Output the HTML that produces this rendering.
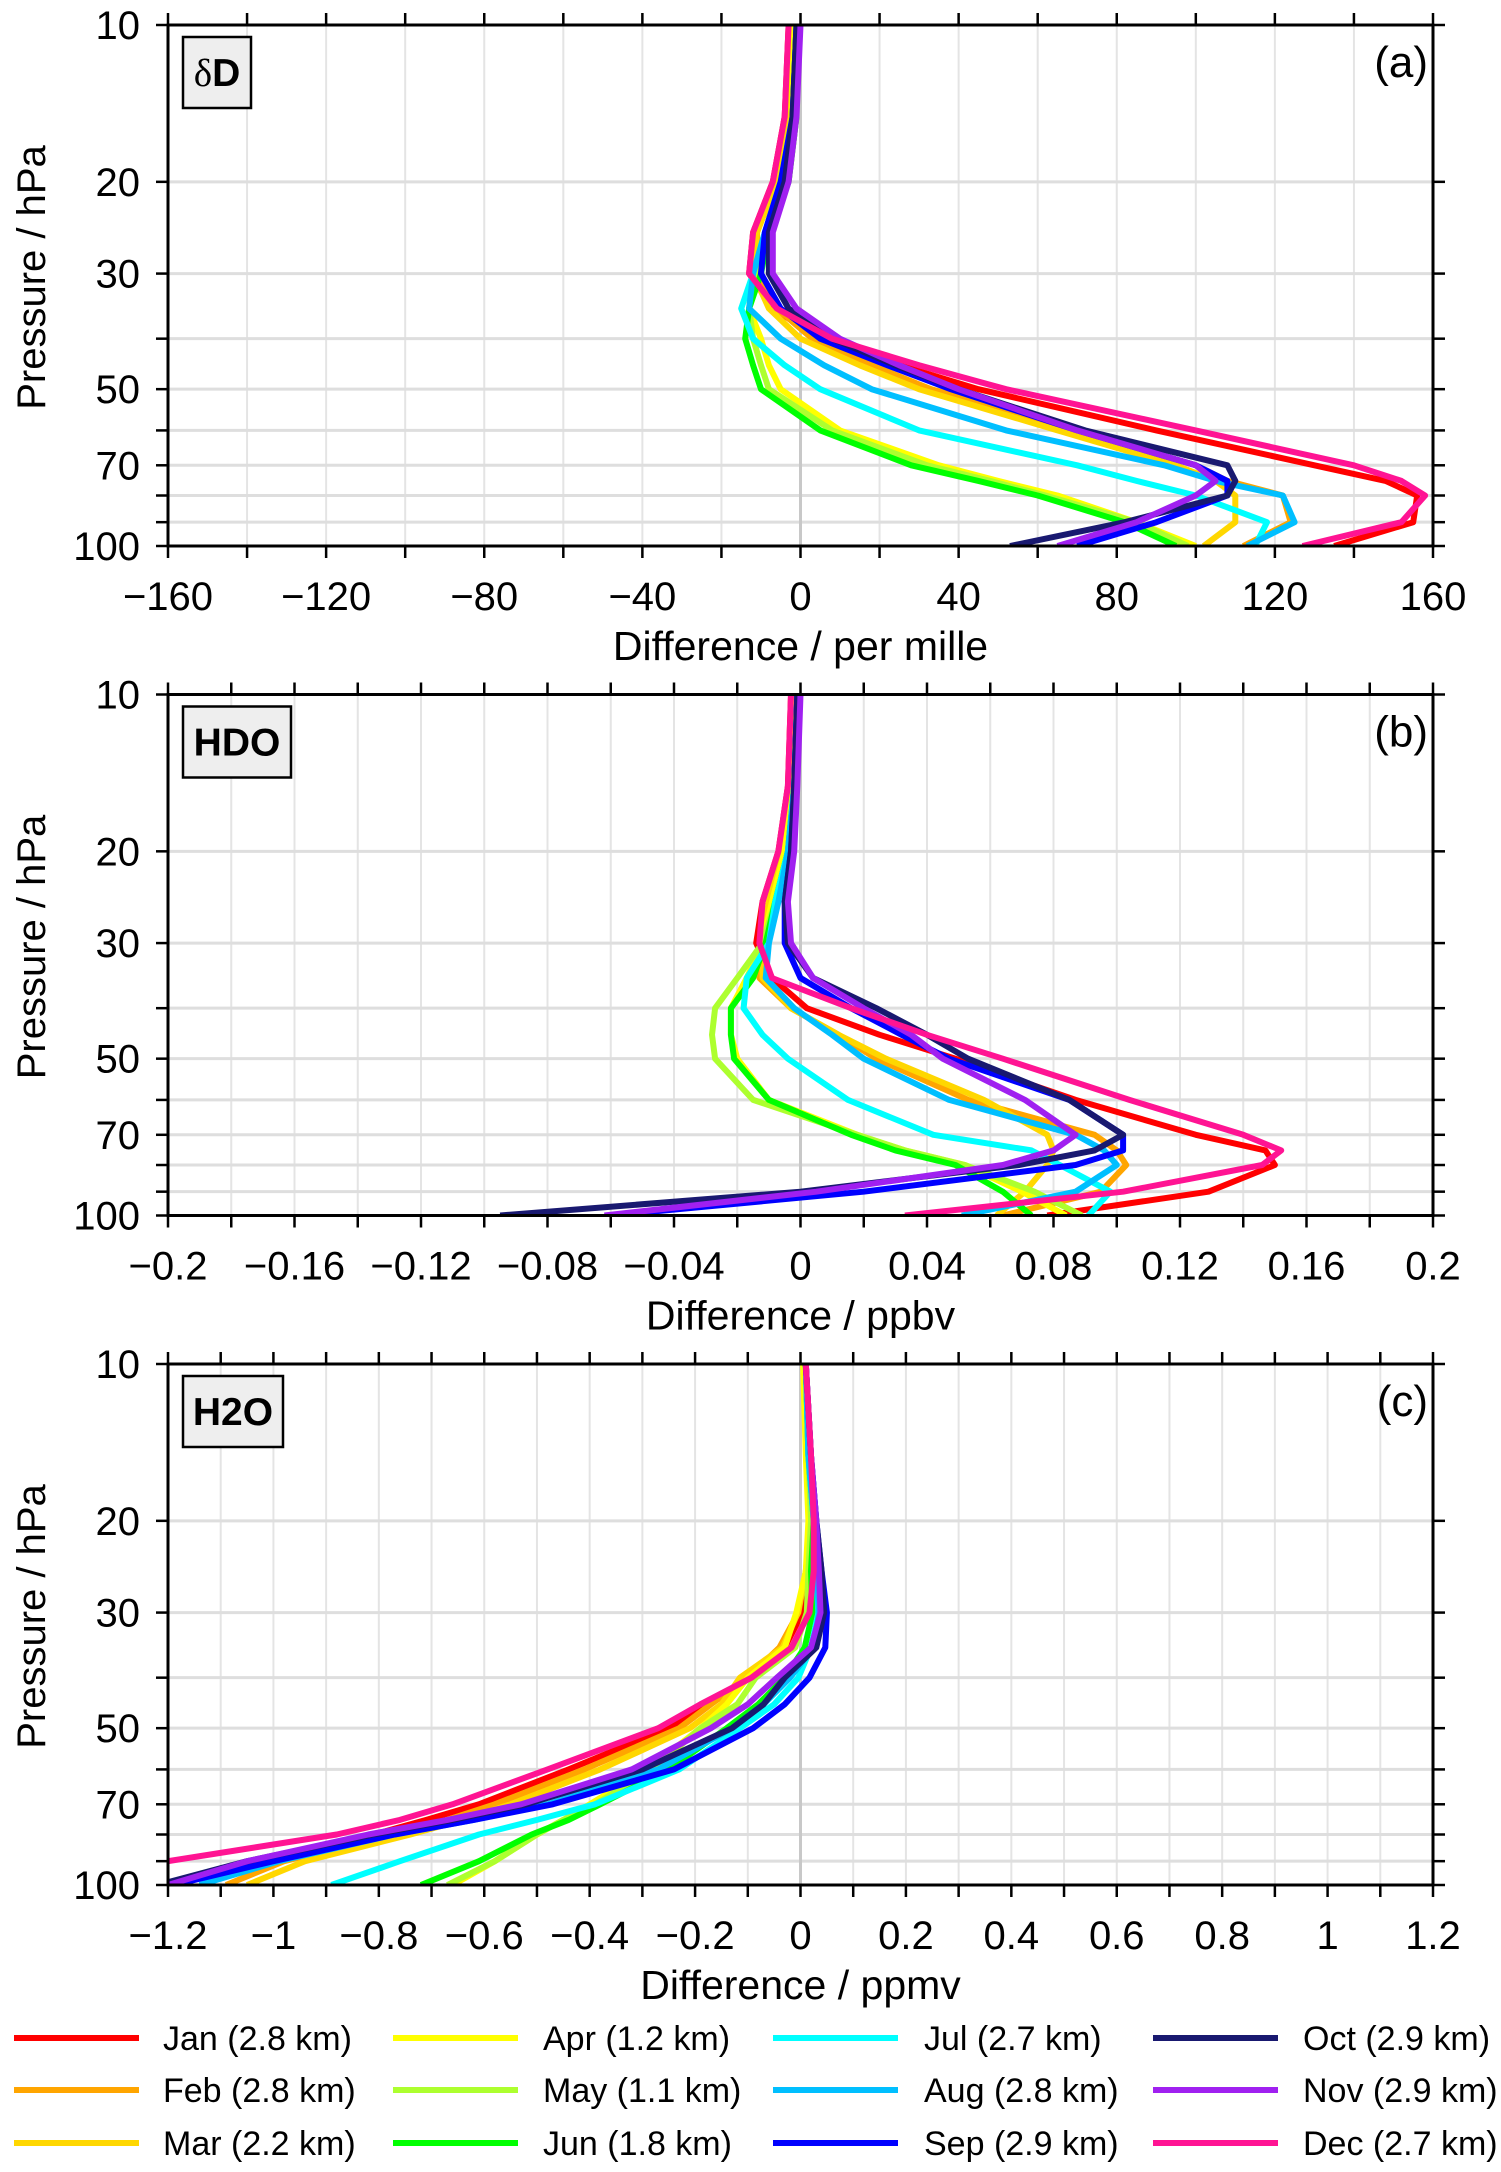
<!DOCTYPE html>
<html><head><meta charset="utf-8"><style>
html,body{margin:0;padding:0;background:#fff}
svg{display:block;font-family:"Liberation Sans",Arial,sans-serif}
</style></head><body>
<svg id="fig" xmlns="http://www.w3.org/2000/svg" width="1501" height="2172" viewBox="0 0 1501 2172"></svg>
<script>
const levels=[10,15,20,25,30,35,40,45,50,60,70,75,80,90,100];
const months=["Jan (2.8 km)","Feb (2.8 km)","Mar (2.2 km)","Apr (1.2 km)","May (1.1 km)","Jun (1.8 km)","Jul (2.7 km)","Aug (2.8 km)","Sep (2.9 km)","Oct (2.9 km)","Nov (2.9 km)","Dec (2.7 km)"];
const colors=["#ff0000","#ffa500","#ffd700","#ffff00","#adff2f","#00ff00","#00ffff","#00bfff","#0000ff","#191970","#a020f0","#ff1493"];
const dD=[
[-3,-4,-7,-12,-13,-7,5,25,45,90,130,148,156,155,135],
[-2,-3,-6,-11,-11,-6,3,18,33,70,100,108,122,124,112],
[-2,-3,-6,-11,-12,-8,0,15,30,65,95,105,110,110,102],
[-2,-2,-4,-9,-12,-13,-10,-8,-5,10,35,50,65,85,100],
[-1,-1,-3,-8,-11,-13,-12,-10,-8,8,32,48,62,85,98],
[-1,-1,-3,-8,-10,-13,-14,-12,-10,5,28,45,60,82,95],
[-1,-2,-5,-9,-12,-15,-12,-4,5,30,70,85,100,118,115],
[-1,-2,-5,-9,-12,-13,-5,6,18,52,92,105,122,125,113],
[-1,-2,-5,-9,-10,-5,5,22,38,70,100,108,108,90,70],
[-1,-2,-4,-8,-8,-3,8,24,40,72,108,110,108,82,53],
[0,-1,-3,-7,-7,-1,10,25,40,70,100,105,100,85,65],
[-3,-4,-7,-12,-13,-6,8,30,52,100,140,152,158,152,127]];
const hdo=[
[-0.003,-0.004,-0.007,-0.012,-0.014,-0.009,0.002,0.025,0.049,0.087,0.125,0.147,0.15,0.129,0.078],
[-0.002,-0.003,-0.006,-0.01,-0.012,-0.013,-0.003,0.012,0.024,0.053,0.093,0.1,0.103,0.095,0.064],
[-0.002,-0.003,-0.006,-0.01,-0.012,-0.012,-0.003,0.012,0.027,0.058,0.078,0.08,0.078,0.071,0.062],
[-0.002,-0.003,-0.005,-0.009,-0.012,-0.017,-0.022,-0.022,-0.02,-0.01,0.018,0.033,0.052,0.07,0.084],
[-0.001,-0.002,-0.004,-0.008,-0.012,-0.02,-0.027,-0.028,-0.027,-0.015,0.018,0.033,0.052,0.074,0.089],
[-0.001,-0.002,-0.004,-0.008,-0.011,-0.015,-0.022,-0.022,-0.021,-0.01,0.016,0.03,0.049,0.064,0.073],
[-0.001,-0.002,-0.004,-0.008,-0.01,-0.017,-0.018,-0.012,-0.004,0.015,0.042,0.073,0.082,0.098,0.091],
[-0.001,-0.002,-0.004,-0.007,-0.01,-0.011,-0.002,0.01,0.02,0.047,0.087,0.096,0.1,0.087,0.051],
[-0.001,-0.002,-0.003,-0.005,-0.005,0.0,0.016,0.032,0.047,0.085,0.102,0.102,0.087,0.02,-0.06],
[-0.001,-0.002,-0.003,-0.005,-0.004,0.004,0.024,0.04,0.053,0.085,0.102,0.093,0.069,0.0,-0.095],
[0,-0.001,-0.002,-0.004,-0.003,0.004,0.02,0.035,0.045,0.071,0.087,0.08,0.064,0.005,-0.062],
[-0.003,-0.004,-0.007,-0.012,-0.013,-0.009,0.016,0.04,0.064,0.104,0.14,0.152,0.146,0.102,0.033]];
const h2o=[
[0.01,0.02,0.02,0.02,0.004,-0.03,-0.097,-0.18,-0.25,-0.44,-0.61,-0.71,-0.81,-1.03,-1.22],
[0.01,0.015,0.02,0.01,-0.004,-0.04,-0.1,-0.17,-0.23,-0.41,-0.58,-0.67,-0.77,-0.98,-1.09],
[0.01,0.015,0.02,0.01,-0.005,-0.034,-0.115,-0.15,-0.21,-0.38,-0.55,-0.64,-0.74,-0.94,-1.05],
[0.005,0.01,0.015,0.01,-0.008,-0.03,-0.1,-0.14,-0.19,-0.29,-0.4,-0.45,-0.5,-0.58,-0.66],
[0.01,0.015,0.02,0.015,0.012,-0.01,-0.085,-0.12,-0.19,-0.28,-0.39,-0.45,-0.5,-0.58,-0.67],
[0.01,0.015,0.025,0.02,0.023,0.008,-0.03,-0.08,-0.14,-0.25,-0.38,-0.44,-0.51,-0.61,-0.72],
[0.01,0.015,0.025,0.03,0.034,0.02,-0.004,-0.05,-0.115,-0.23,-0.39,-0.5,-0.61,-0.76,-0.89],
[0.01,0.015,0.025,0.03,0.035,0.025,-0.02,-0.07,-0.13,-0.27,-0.48,-0.62,-0.77,-0.99,-1.14],
[0.01,0.02,0.03,0.04,0.05,0.047,0.017,-0.03,-0.09,-0.24,-0.47,-0.62,-0.77,-1.0,-1.19],
[0.01,0.02,0.03,0.04,0.045,0.03,-0.03,-0.07,-0.13,-0.3,-0.52,-0.66,-0.81,-1.05,-1.22],
[0.01,0.02,0.03,0.035,0.038,0.02,-0.045,-0.1,-0.17,-0.32,-0.53,-0.67,-0.82,-1.05,-1.2],
[0.01,0.02,0.025,0.025,0.017,-0.017,-0.093,-0.19,-0.27,-0.48,-0.66,-0.76,-0.88,-1.2,-1.45]];
const ticksA=[-160,-120,-80,-40,0,40,80,120,160];
const ticksB=[-0.2,-0.16,-0.12,-0.08,-0.04,0,0.04,0.08,0.12,0.16,0.2];
const ticksC=[-1.2,-1,-0.8,-0.6,-0.4,-0.2,0,0.2,0.4,0.6,0.8,1,1.2];
const pTicks=[10,20,30,40,50,60,70,80,90,100];
const pLabels=[10,20,30,50,70,100];

const NS="http://www.w3.org/2000/svg";
const svg=document.getElementById('fig');
function mk(tag,attrs,parent){const e=document.createElementNS(NS,tag);for(const k in attrs)e.setAttribute(k,attrs[k]);(parent||svg).appendChild(e);return e;}
const L=168,R=1433,H=521;
function fmt(v){let s=(Math.round(v*1000)/1000).toString();return s.replace('-','\u2212');}

const panels=[
 {top:25,data:dD,min:-160,max:160,minor:20,ticks:ticksA,xt:"Difference / per mille",lab:"(a)",box:"dD",bw:68},
 {top:694.5,data:hdo,min:-0.2,max:0.2,minor:0.02,ticks:ticksB,xt:"Difference / ppbv",lab:"(b)",box:"HDO",bw:108},
 {top:1364,data:h2o,min:-1.2,max:1.2,minor:0.1,ticks:ticksC,xt:"Difference / ppmv",lab:"(c)",box:"H2O",bw:100}];

panels.forEach((P,pi)=>{
 const g=mk('g',{});
 
 
 const top=P.top,bot=top+H;
 const xs=v=>L+(v-P.min)/(P.max-P.min)*(R-L);
 const ys=p=>top+(Math.log10(p)-1)*H;
 const cp=mk('clipPath',{id:'clip'+pi},g);mk('rect',{x:L,y:top,width:R-L,height:H},cp);
 const nMinor=Math.round((P.max-P.min)/P.minor);
 for(let i=0;i<=nMinor;i++){const x=xs(P.min+i*P.minor);
  const gl=mk('line',{x1:x,x2:x,y1:top,y2:bot,stroke:'#e4e4e4','stroke-width':2},g);
  }
 pTicks.forEach(p=>{if(p===10||p===100)return;const y=ys(p);
  const gl=mk('line',{x1:L,x2:R,y1:y,y2:y,stroke:'#dedede','stroke-width':3},g);
  });
 const z=mk('line',{x1:xs(0),x2:xs(0),y1:top,y2:bot,stroke:'#c8c8c8','stroke-width':3},g);
 
 const lg=mk('g',{'clip-path':'url(#clip'+pi+')'},g);
 P.data.forEach((ser,mi)=>{
  const pts=ser.map((v,i)=>xs(v).toFixed(1)+','+ys(levels[i]).toFixed(1)).join(' ');
  const pl=mk('polyline',{points:pts,fill:'none',stroke:colors[mi],'stroke-width':6,'stroke-linejoin':'round'},lg);
  
  
 });
 const fr=mk('rect',{x:L,y:top,width:R-L,height:H,fill:'none',stroke:'#000','stroke-width':3},g);
 
 for(let i=0;i<=nMinor;i++){const x=xs(P.min+i*P.minor);
  mk('line',{x1:x,x2:x,y1:bot,y2:bot+12,stroke:'#000','stroke-width':2.5},g);
  mk('line',{x1:x,x2:x,y1:top,y2:top-12,stroke:'#000','stroke-width':2.5},g);}
 pTicks.forEach(p=>{const y=ys(p);
  mk('line',{x1:L-12,x2:L,y1:y,y2:y,stroke:'#000','stroke-width':2.5},g);
  mk('line',{x1:R,x2:R+12,y1:y,y2:y,stroke:'#000','stroke-width':2.5},g);});
 pLabels.forEach(p=>{const t=mk('text',{x:140,y:ys(p)+14,'text-anchor':'end','font-size':40},g);t.textContent=p;
  });
 P.ticks.forEach(v=>{const t=mk('text',{x:xs(v),y:bot+64,'text-anchor':'middle','font-size':40},g);t.textContent=fmt(v);
  });
 const xt=mk('text',{x:(L+R)/2,y:bot+114,'text-anchor':'middle','font-size':41},g);xt.textContent=P.xt;
 
 const yt=mk('text',{x:0,y:0,'text-anchor':'middle','font-size':40,transform:`translate(45,${top+H/2-8}) rotate(-90)`},g);yt.textContent='Pressure / hPa';
 
 const pl=mk('text',{x:1428,y:top+52,'text-anchor':'end','font-size':44},g);pl.textContent=P.lab;
 
 const bx=mk('rect',{x:183,y:top+12,width:P.bw,height:71,fill:'#eeeeee',stroke:'#000','stroke-width':2.5},g);
 
 const bt=mk('text',{x:183+P.bw/2,y:top+61,'text-anchor':'middle','font-size':39,'font-weight':'bold'},g);
 
 if(P.box==='dD'){const s1=mk('tspan',{'font-weight':'normal','font-family':'"Liberation Serif",serif'},bt);s1.textContent='\u03b4';const s2=mk('tspan',{},bt);s2.textContent='D';}
 else bt.textContent=P.box;
});

const legX=[14,393,773,1153],legTx=[163,543,924,1303],legY=[2038,2090,2143];
months.forEach((m,i)=>{
 const col=Math.floor(i/3),row=i%3;
 const g=mk('g',{});
 
 
 mk('line',{x1:legX[col],x2:legX[col]+125,y1:legY[row],y2:legY[row],stroke:colors[i],'stroke-width':6},g);
 const t=mk('text',{x:legTx[col],y:legY[row]+12,'font-size':34},g);t.textContent=m;
});
</script>
</body></html>
